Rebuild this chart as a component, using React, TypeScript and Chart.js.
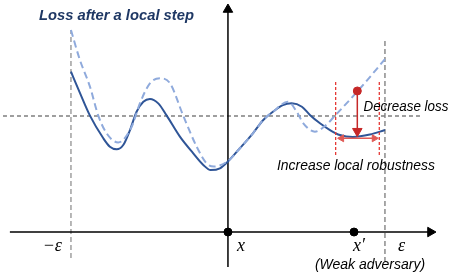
import React, { useEffect, useRef } from 'react';
import { Chart, registerables } from 'chart.js';

Chart.register(...registerables);

const W = 449;
const H = 276;

// x is measured in units of ε around the clean input x (=0); loss in units of the threshold level
const solidX = [-1.0, -0.943, -0.879, -0.794, -0.752, -0.709, -0.667, -0.624, -0.582, -0.539, -0.497, -0.444, -0.39, -0.306, -0.221, -0.157, -0.11, -0.051, 0, 0.076, 0.159, 0.225, 0.287, 0.35, 0.406, 0.471, 0.522, 0.586, 0.65, 0.713, 0.796, 0.904, 1.0];
const solidY = [1.382, 1.199, 1.003, 0.808, 0.735, 0.713, 0.75, 0.879, 1.037, 1.123, 1.147, 1.109, 1.003, 0.822, 0.678, 0.578, 0.534, 0.549, 0.608, 0.722, 0.851, 0.966, 1.037, 1.094, 1.109, 1.08, 1.009, 0.937, 0.879, 0.836, 0.819, 0.84, 0.879];

const dashedX = [-1.0, -0.943, -0.879, -0.826, -0.773, -0.699, -0.613, -0.561, -0.497, -0.433, -0.369, -0.285, -0.199, -0.136, -0.089, 0, 0.076, 0.159, 0.225, 0.287, 0.382, 0.438, 0.48, 0.554, 0.618, 0.682, 0.841, 1.0];
const dashedY = [1.741, 1.483, 1.253, 1.003, 0.851, 0.772, 0.908, 1.109, 1.282, 1.325, 1.282, 1.003, 0.735, 0.592, 0.565, 0.612, 0.722, 0.851, 0.966, 1.037, 1.123, 1.037, 0.937, 0.865, 0.914, 1.003, 1.237, 1.49];

const threshold = 1;
const epsilon = 1;
const xPrime = 0.803;
const tickValues = [-epsilon, 0, xPrime, epsilon];
const tickLabels = ['\u2212\u03b5', 'x', 'x\u2032', '\u03b5'];

// red annotation (data units)
const stepX = 0.824;
const stepFromY = 1.216;
const stepToY = 0.869;
const robustLeft = 0.686;
const robustRight = 0.964;
const robustTop = 1.293;
const robustBottom = 0.664;
const arrowY = 0.808;
const arrowLeft = 0.699;
const arrowRight = 0.957;

const title = 'Loss after a local step';
const decreaseText = 'Decrease loss';
const increaseText = 'Increase local robustness';
const adversaryText = '(Weak adversary)';

// scale extents
const X_MIN = -1.452;
const X_MAX = 1.408;
const Y_MIN = -0.379;
const Y_MAX = 2.0;

const pts = (xs: number[], ys: number[]) => xs.map((x, i) => ({ x, y: ys[i] }));
const seg = (x1: number, y1: number, x2: number, y2: number) => [{ x: x1, y: y1 }, { x: x2, y: y2 }];

const lineDs = (data: any, color: string, width: number, dash: number[] = []) => ({
  data,
  showLine: true,
  borderColor: color,
  borderWidth: width,
  borderDash: dash,
  pointRadius: 0,
  pointHoverRadius: 0,
  tension: 0,
  fill: false,
  clip: false as any,
});

const headDs = (data: any, color: string, r: number, rot: number[] | number) => ({
  data,
  showLine: false,
  pointStyle: 'triangle',
  pointRadius: r,
  pointHoverRadius: r,
  pointRotation: rot,
  pointBackgroundColor: color,
  pointBorderColor: color,
  pointBorderWidth: 1,
  clip: false as any,
});

const texts = [
  { text: title, x: -1.204, y: 1.865, font: 'italic bold 15px "Liberation Sans"', color: '#1F3864', align: 'left', base: 'middle', dx: 0, dy: 0, mw: 155 },
  { text: decreaseText, x: 0.863, y: 1.078, font: 'italic 15px "Liberation Sans"', color: '#000', align: 'left', base: 'middle', dx: 0, dy: 0, mw: 85 },
  { text: increaseText, x: 0.312, y: 0.565, font: 'italic 14px "Liberation Sans"', color: '#000', align: 'left', base: 'middle', dx: 0, dy: 0, mw: 158 },
  { text: adversaryText, x: 0.554, y: -0.284, font: 'italic 14px "Liberation Sans"', color: '#000', align: 'left', base: 'middle', dx: 0, dy: 0, mw: 112 },
];
const tickStyle = [
  { align: 'right', dx: -9 },
  { align: 'left', dx: 9 },
  { align: 'left', dx: -1 },
  { align: 'left', dx: 13 },
];

const textPlugin = {
  id: 'diagramTexts',
  afterDraw(chart: any) {
    const { ctx } = chart;
    const sx = chart.scales.x;
    const sy = chart.scales.y;
    ctx.save();
    for (const t of texts) {
      ctx.font = t.font;
      ctx.fillStyle = t.color;
      ctx.textAlign = t.align;
      ctx.textBaseline = t.base;
      ctx.fillText(t.text, sx.getPixelForValue(t.x) + t.dx, sy.getPixelForValue(t.y) + t.dy, t.mw);
    }
    ctx.font = 'italic 18px "Liberation Serif"';
    ctx.fillStyle = '#000';
    ctx.textBaseline = 'alphabetic';
    tickValues.forEach((v, i) => {
      ctx.textAlign = tickStyle[i].align;
      ctx.fillText(tickLabels[i], sx.getPixelForValue(v) + tickStyle[i].dx, sy.getPixelForValue(0) + 19);
    });
    ctx.restore();
  },
};

export default function App() {
  const ref = useRef<HTMLCanvasElement | null>(null);
  useEffect(() => {
    if (!ref.current) return;
    const red = '#C62828';
    const lightRed = '#E05A55';
    const chart = new Chart(ref.current, {
      type: 'scatter',
      data: {
        datasets: [
          lineDs(seg(stepX, stepFromY, stepX, stepToY), red, 1.5),
          headDs([{ x: stepX, y: stepToY }], red, 5.5, 180),
          { data: [{ x: stepX, y: stepFromY }], showLine: false, pointRadius: 4, pointHoverRadius: 4, pointBackgroundColor: red, pointBorderColor: red, clip: false as any },
          lineDs(seg(arrowLeft + 0.02, arrowY, arrowRight - 0.02, arrowY), lightRed, 1.5),
          headDs([{ x: arrowLeft + 0.025, y: arrowY }, { x: arrowRight - 0.025, y: arrowY }], lightRed, 4, [270, 90]),
          lineDs(seg(robustLeft, robustTop, robustLeft, robustBottom), '#E53935', 1.3, [3, 2]),
          lineDs(seg(robustRight, robustTop, robustRight, robustBottom), '#E53935', 1.3, [3, 2]),
          { ...lineDs(pts(dashedX, dashedY), '#8FAADC', 2, [7, 4]), cubicInterpolationMode: 'monotone' },
          { ...lineDs(pts(solidX, solidY), '#2F5597', 2), cubicInterpolationMode: 'monotone' },
          { data: [{ x: 0, y: 0 }, { x: xPrime, y: 0 }], showLine: false, pointRadius: 4, pointHoverRadius: 4, pointBackgroundColor: '#000', pointBorderColor: '#000', clip: false as any },
          headDs([{ x: 1.29, y: 0 }], '#000', 5.5, 90),
          headDs([{ x: 0, y: 1.918 }], '#000', 5.5, 0),
          lineDs(seg(-1.389, 0, 1.29, 0), '#000', 1.5),
          lineDs(seg(0, -0.302, 0, 1.918), '#000', 1.5),
          lineDs(seg(-1.433, threshold, 1.236, threshold), '#7F7F7F', 1.5, [4, 3]),
          lineDs(seg(-epsilon, -0.224, -epsilon, 1.741), '#A0A0A0', 1.5, [5, 3]),
          lineDs(seg(epsilon, -0.259, epsilon, 1.655), '#8C8C8C', 1.5, [5, 3]),
        ] as any,
      },
      options: {
        animation: false,
        responsive: false,
        devicePixelRatio: 1,
        layout: { padding: 0, autoPadding: false },
        plugins: { legend: { display: false }, tooltip: { enabled: false }, title: { display: false } },
        scales: {
          x: { type: 'linear', display: false, min: X_MIN, max: X_MAX },
          y: { type: 'linear', display: false, min: Y_MIN, max: Y_MAX },
        },
        events: [],
      } as any,
      plugins: [textPlugin],
    });
    return () => chart.destroy();
  }, []);
  return (
    <div style={{ position: 'absolute', left: 0, top: 0, width: W, height: H, background: '#fff' }}>
      <canvas ref={ref} width={W} height={H} style={{ display: 'block', width: W, height: H }} />
    </div>
  );
}
